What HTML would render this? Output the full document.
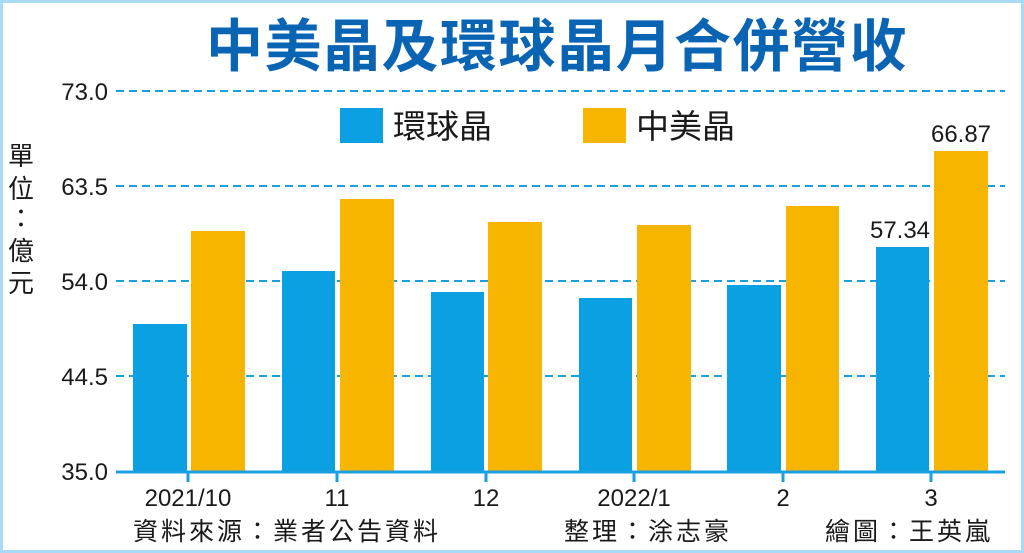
<!DOCTYPE html>
<html><head><meta charset="utf-8"><style>
html,body{margin:0;padding:0;background:#fff}
svg{display:block}
text{font-family:"Liberation Sans","Noto Sans CJK TC",sans-serif}
</style></head><body>
<svg width="1024" height="553" viewBox="0 0 1024 553" xmlns="http://www.w3.org/2000/svg">
<rect x="1.5" y="1.5" width="1021" height="550" fill="#fff" stroke="#a9d9f5" stroke-width="3"/>
<text x="557" y="66" text-anchor="middle" font-size="57" font-weight="bold" letter-spacing="1.5" fill="#0a64b4" font-family="Noto Sans CJK TC, sans-serif">中美晶及環球晶月合併營收</text>
<g stroke="#1aa0e0" stroke-width="2" stroke-dasharray="8,5">
<line x1="116" y1="91" x2="1005" y2="91"/>
<line x1="116" y1="186" x2="1005" y2="186"/>
<line x1="116" y1="281" x2="1005" y2="281"/>
<line x1="116" y1="376" x2="1005" y2="376"/>
</g>
<g font-size="24" fill="#1a1a1a" text-anchor="end">
<text x="108" y="100">73.0</text>
<text x="108" y="195">63.5</text>
<text x="108" y="290">54.0</text>
<text x="108" y="385">44.5</text>
<text x="108" y="480">35.0</text>
</g>
<g font-size="26" fill="#1a1a1a" font-family="Noto Sans CJK TC, sans-serif">
<text x="8" y="165">單</text><text x="8" y="198">位</text><text x="8" y="228">：</text><text x="8" y="260">億</text><text x="8" y="292">元</text>
</g>
<rect x="340" y="108" width="43" height="35" fill="#0aa0e2"/>
<text x="393" y="138" font-size="33" fill="#1a1a1a" font-family="Noto Sans CJK TC, sans-serif">環球晶</text>
<rect x="583" y="108" width="43" height="35" fill="#f8b500"/>
<text x="636" y="138" font-size="33" fill="#1a1a1a" font-family="Noto Sans CJK TC, sans-serif">中美晶</text>
<g fill="#0aa0e2">
<rect x="133" y="324" width="54" height="148"/>
<rect x="282" y="271" width="53" height="201"/>
<rect x="431" y="292" width="53" height="180"/>
<rect x="579" y="298" width="53" height="174"/>
<rect x="727" y="285" width="54" height="187"/>
<rect x="876" y="247" width="53" height="225"/>
</g>
<g fill="#f8b500">
<rect x="191" y="231" width="54" height="241"/>
<rect x="340" y="199" width="54" height="273"/>
<rect x="488" y="222" width="54" height="250"/>
<rect x="637" y="225" width="54" height="247"/>
<rect x="786" y="206" width="53" height="266"/>
<rect x="934" y="151" width="54" height="321"/>
</g>
<line x1="116" y1="472" x2="1005" y2="472" stroke="#1aa0e0" stroke-width="3"/>
<g stroke="#1aa0e0" stroke-width="3">
<line x1="188" y1="472" x2="188" y2="482"/><line x1="337" y1="472" x2="337" y2="482"/>
<line x1="486" y1="472" x2="486" y2="482"/><line x1="634" y1="472" x2="634" y2="482"/>
<line x1="783" y1="472" x2="783" y2="482"/><line x1="931" y1="472" x2="931" y2="482"/>
</g>
<g font-size="24" fill="#1a1a1a" text-anchor="middle">
<text x="188" y="506">2021/10</text><text x="337" y="506">11</text><text x="486" y="506">12</text>
<text x="634" y="506">2022/1</text><text x="783" y="506">2</text><text x="931" y="506">3</text>
<text x="900" y="238">57.34</text><text x="961" y="142">66.87</text>
</g>
<g font-size="25" letter-spacing="3" fill="#1a1a1a" font-family="Noto Sans CJK TC, sans-serif">
<text x="133" y="540">資料來源：業者公告資料</text>
<text x="564" y="540">整理：涂志豪</text>
<text x="825" y="540">繪圖：王英嵐</text>
</g>
</svg>
</body></html>
